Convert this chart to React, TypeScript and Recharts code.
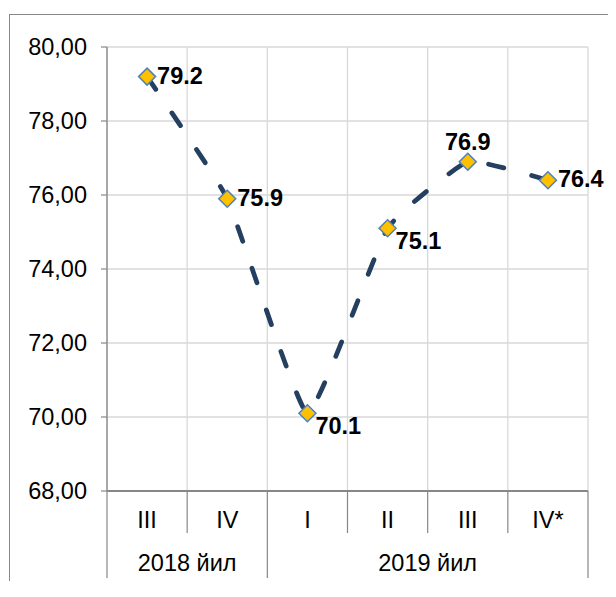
import { LineChart, Line, XAxis, YAxis, CartesianGrid, LabelList } from "recharts";

const quarters = ["III", "IV", "I", "II", "III", "IV*"];
const values = [79.2, 75.9, 70.1, 75.1, 76.9, 76.4];
const years = ["2018 йил", "2019 йил"];
const yearSpans = [2, 4];
const yTicks = [68, 70, 72, 74, 76, 78, 80];
// where each value label sits next to its marker
const labelSpots = ["right", "right", "below", "below", "above", "right"];

const data = quarters.map((q, i) => ({ slot: `q${i}`, quarter: q, value: values[i] }));

// cell and year-group edges, counted in quarters
const cellEdges = quarters.map((_, i) => i).concat(quarters.length);
const yearEdges = yearSpans.reduce((acc, s) => [...acc, acc[acc.length - 1] + s], [0]);

const font = "'Liberation Sans', Arial, sans-serif";
const axisGray = "#878787";
const tickText = { fill: "#000", fontSize: 23.5, fontFamily: font };

// slightly rounded polyline, close to Excel's "smoothed line"
const softCurve = (context: any) => {
  let pts: number[][] = [];
  const k = 0.06;
  return {
    areaStart() {},
    areaEnd() {},
    lineStart() {
      pts = [];
    },
    point(x: number, y: number) {
      pts.push([+x, +y]);
    },
    lineEnd() {
      if (!pts.length) return;
      context.moveTo(pts[0][0], pts[0][1]);
      for (let i = 0; i < pts.length - 1; i++) {
        const p0 = pts[i - 1] || pts[i];
        const p1 = pts[i];
        const p2 = pts[i + 1];
        const p3 = pts[i + 2] || p2;
        context.bezierCurveTo(
          p1[0] + (p2[0] - p0[0]) * k,
          p1[1] + (p2[1] - p0[1]) * k,
          p2[0] - (p3[0] - p1[0]) * k,
          p2[1] - (p3[1] - p1[1]) * k,
          p2[0],
          p2[1]
        );
      }
    },
  };
};

const Diamond = (p: any) => {
  const { cx, cy, index } = p;
  if (cx == null || cy == null) return <g key={`d${index}`} />;
  const r = 8.5;
  return (
    <polygon
      key={`d${index}`}
      points={`${cx},${cy - r} ${cx + r},${cy} ${cx},${cy + r} ${cx - r},${cy}`}
      fill="#FFC000"
      stroke="#4F81BD"
      strokeWidth={1.5}
    />
  );
};

const renderLabel = (props: any) => {
  const { x, y, value, index } = props;
  const spot = labelSpots[index] ?? "right";
  let tx = x + 10;
  let ty = y - 1;
  let anchor = "start";
  if (spot === "below") {
    tx = x + 8;
    ty = y + 12.5;
  }
  if (spot === "above") {
    tx = x;
    ty = y - 20;
    anchor = "middle";
  }
  return (
    <text
      x={tx}
      y={ty}
      textAnchor={anchor as any}
      dominantBaseline="central"
      fontFamily={font}
      fontSize={23.5}
      fontWeight="bold"
      fill="#000"
    >
      {Number(value).toFixed(1)}
    </text>
  );
};

// two-level category axis: quarter name, cell dividers, year name under its quarters
const QuarterTick = (props: any) => {
  const { x, y, payload, width } = props;
  const i = payload?.index ?? props.index ?? 0;
  const half = payload?.offset || width / quarters.length / 2;
  const left = x - half;
  const yearIdx = yearEdges.indexOf(i);
  const isLast = i === quarters.length - 1;
  const line = { stroke: axisGray, strokeWidth: 1.2 };
  return (
    <g>
      <line x1={left} x2={left} y1={y} y2={y + (yearIdx >= 0 ? 87 : 42)} {...line} />
      {isLast && <line x1={x + half} x2={x + half} y1={y} y2={y + 87} {...line} />}
      <text x={x} y={y + 20.5} dy="0.71em" textAnchor="middle" {...tickText}>
        {quarters[i]}
      </text>
      {yearIdx >= 0 && yearIdx < years.length && (
        <text
          x={left + yearSpans[yearIdx] * half}
          y={y + 63}
          dy="0.71em"
          textAnchor="middle"
          {...tickText}
        >
          {years[yearIdx]}
        </text>
      )}
    </g>
  );
};

export default function App() {
  return (
    <div style={{ padding: "6px 0 0 1px" }}>
      <div style={{ borderTop: `1px solid ${axisGray}`, borderLeft: `1px solid ${axisGray}` }}>
        <LineChart
          width={598}
          height={566}
          data={data}
          margin={{ top: 32, right: 20, bottom: 3, left: 0 }}
        >
          <CartesianGrid
            stroke="#d9d9d9"
            strokeWidth={1.3}
            verticalCoordinatesGenerator={({ offset }: any) =>
              cellEdges.map((e) => offset.left + (offset.width * e) / quarters.length)
            }
          />
          <XAxis
            dataKey="slot"
            scale="band"
            height={87}
            axisLine={{ stroke: axisGray, strokeWidth: 2 }}
            tickLine={false}
            tickSize={0}
            tickMargin={0}
            interval={0}
            tick={QuarterTick}
          />
          <YAxis
            domain={[68, 80]}
            ticks={yTicks}
            interval={0}
            width={97}
            axisLine={{ stroke: axisGray, strokeWidth: 1.3 }}
            tickLine={{ stroke: axisGray, strokeWidth: 1.2 }}
            tickSize={6}
            tickMargin={14}
            tickFormatter={(v: number) => v.toFixed(2).replace(".", ",")}
            tick={tickText}
          />
          <Line
            dataKey="value"
            type={softCurve as any}
            stroke="#243F60"
            strokeWidth={4.75}
            strokeDasharray="15.5 28.5"
            strokeLinecap="round"
            dot={Diamond}
            activeDot={false}
            isAnimationActive={false}
          >
            <LabelList dataKey="value" content={renderLabel} />
          </Line>
        </LineChart>
      </div>
    </div>
  );
}
